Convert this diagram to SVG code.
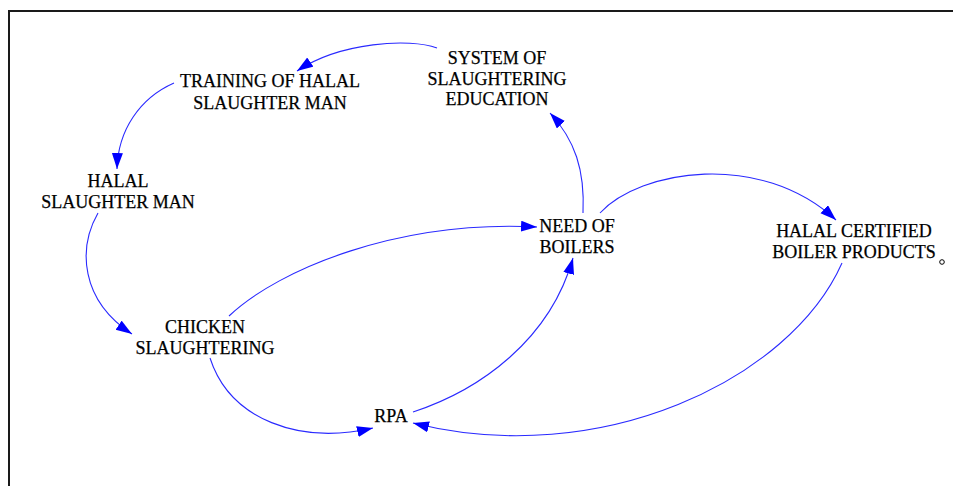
<svg xmlns="http://www.w3.org/2000/svg" width="953" height="486" viewBox="0 0 953 486">
<defs>
<marker id="ah" markerUnits="userSpaceOnUse" markerWidth="17" markerHeight="12" refX="16" refY="5.5" orient="auto">
<path d="M0,0 L16,5.5 L0,11 z" fill="#0000ff"/>
</marker>
<style>
text{font-family:"Liberation Serif","Times New Roman",serif;font-size:18px;fill:#000;stroke:#000;stroke-width:0.25;text-anchor:middle}
.c{fill:none;stroke:#2a2aff;stroke-width:1.1;marker-end:url(#ah)}
</style>
</defs>
<rect width="953" height="486" fill="#fff"/>
<path d="M9,486 L9,11 L953,11" fill="none" stroke="#1a1a1a" stroke-width="2"/>
<g id="connectors">
<path class="c" d="M437,48 C410,38 340,42 297,71"/>
<path class="c" d="M174,83 C140,98 118,130 117,169"/>
<path class="c" d="M98,213 C78,248 80,300 132,334"/>
<path class="c" d="M229,316 C280,268 400,220 537,227"/>
<path class="c" d="M210,358 C230,420 300,445 373,428"/>
<path class="c" d="M413,412 C480,390 550,340 573,258"/>
<path class="c" d="M842,263 C790,380 600,470 413,423"/>
<path class="c" d="M583,213 C585,170 575,140 550,113"/>
<path class="c" d="M600,213 C640,170 760,150 836,220"/>
</g>
<g id="system-education"><text x="497" y="64">SYSTEM OF</text><text x="497" y="85">SLAUGHTERING</text><text x="497" y="105">EDUCATION</text></g>
<g id="training"><text x="270" y="87">TRAINING OF HALAL</text><text x="270" y="109">SLAUGHTER MAN</text></g>
<g id="halal-slaughter-man"><text x="118" y="187">HALAL</text><text x="118" y="208">SLAUGHTER MAN</text></g>
<g id="chicken-slaughtering"><text x="205" y="333">CHICKEN</text><text x="205" y="354">SLAUGHTERING</text></g>
<g id="rpa"><text x="391" y="422">RPA</text></g>
<g id="need-of-boilers"><text x="577" y="232">NEED OF</text><text x="577" y="253">BOILERS</text></g>
<g id="halal-certified"><text x="854" y="237">HALAL CERTIFIED</text><text x="854" y="258">BOILER PRODUCTS</text><circle cx="942" cy="262" r="2.3" fill="#fff" stroke="#000" stroke-width="1"/></g>
</svg>
